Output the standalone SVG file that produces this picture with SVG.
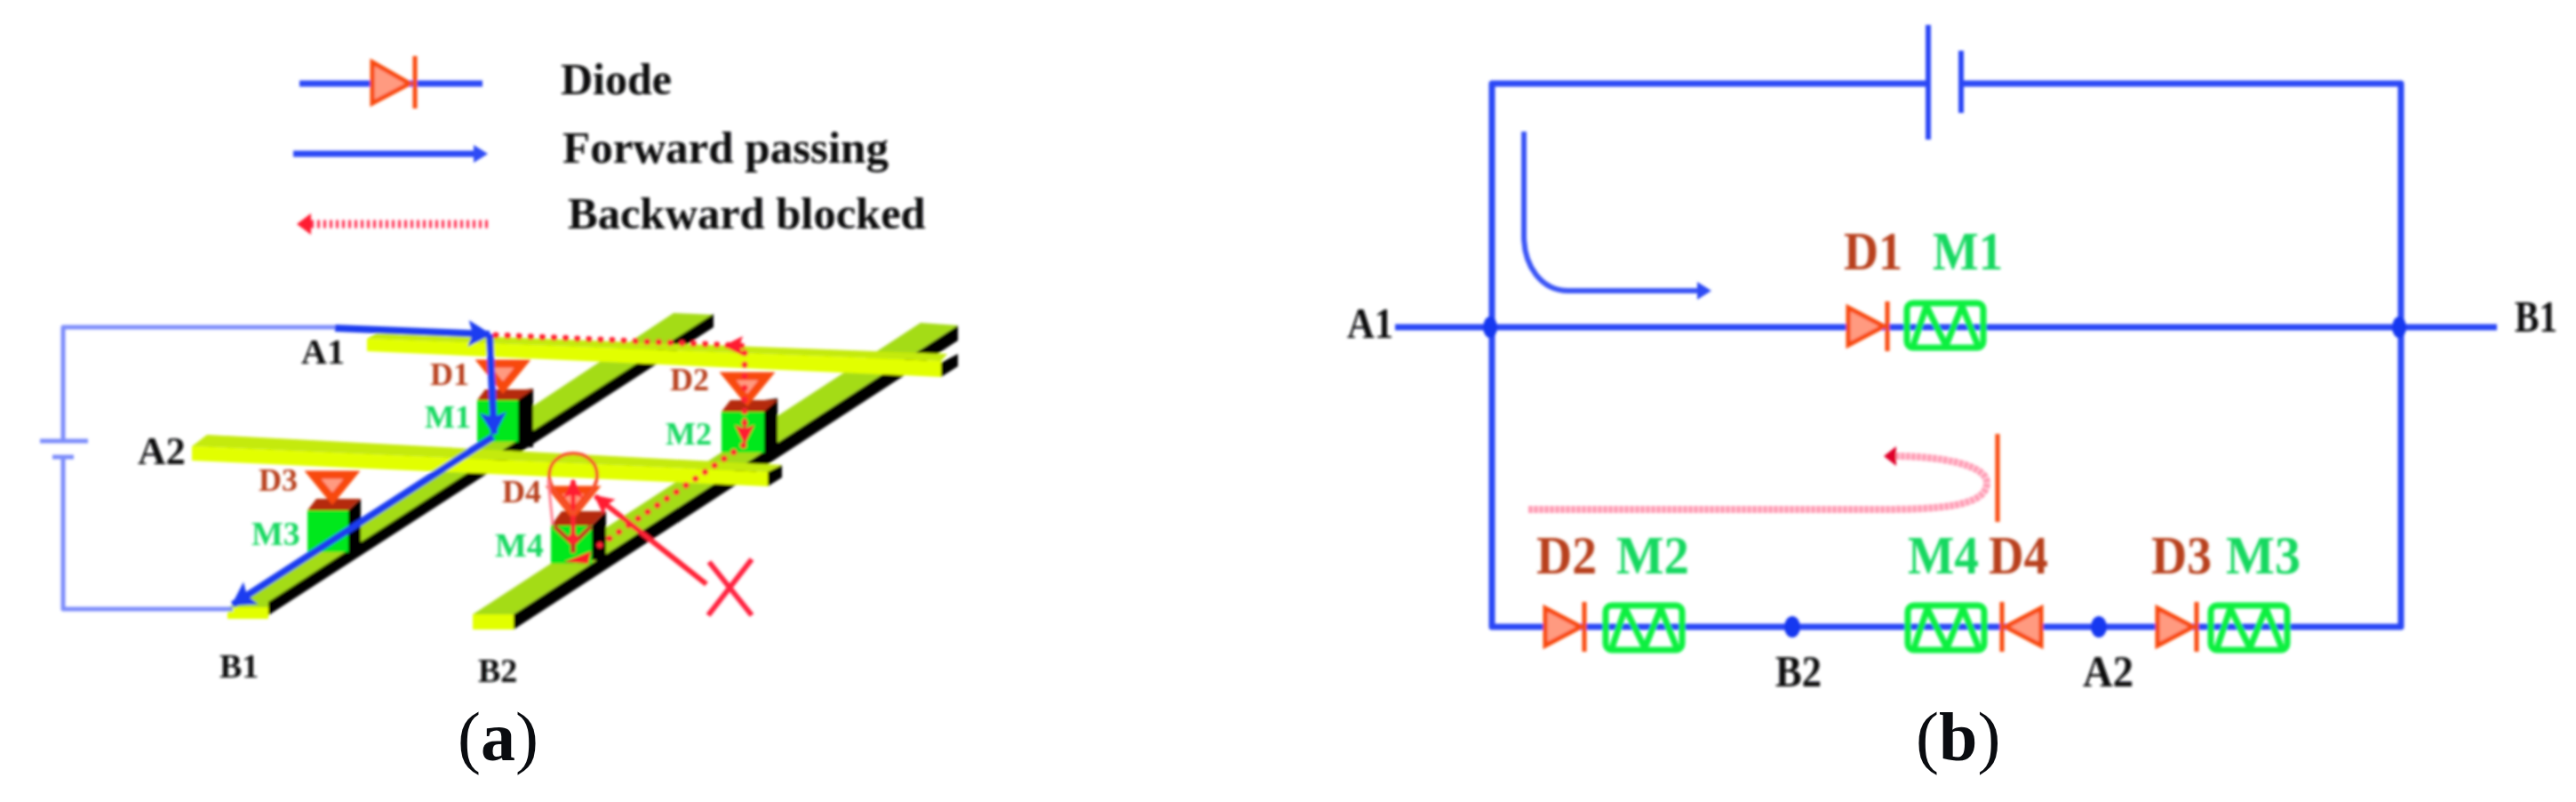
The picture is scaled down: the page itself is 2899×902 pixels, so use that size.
<svg xmlns="http://www.w3.org/2000/svg" width="2899" height="902" viewBox="0 0 2899 902">
<style>
text{font-family:"Liberation Serif","Times New Roman",serif;font-weight:bold}
.k{fill:#0a0c10}.dr{fill:#b8401e}.gr{fill:#12d860}
.wire{fill:none;stroke:#2a46f5;stroke-width:7;stroke-linejoin:round;stroke-linecap:butt}
.thin{fill:none;stroke:#7d8dfb;stroke-width:5;stroke-linejoin:round}
.flow{fill:none;stroke:#1c3cf0;stroke-width:8;stroke-linejoin:round}
.dot{fill:none;stroke:#ff2030;stroke-width:7;stroke-dasharray:0.1 13;stroke-linecap:round}
.tri{fill:#ff9a80;stroke:#f8480a;stroke-width:5;stroke-linejoin:miter}
.trid{fill:#ff9a80;stroke:#f8480a;stroke-width:9;stroke-linejoin:miter}
.bar{fill:none;stroke:#f8480a;stroke-width:5}
.mem{fill:none;stroke:#08f040;stroke-width:7;stroke-linejoin:round}
.top{fill:#a4dc14}.top2{fill:#c4ea08}.front{fill:#e2ff00}.side{fill:#000}
.cubef{fill:#00e81e}.cubet{fill:#b52a10}
.j{fill:#1638f0}
</style>
<defs>
<filter id="soft" x="-5%" y="-5%" width="110%" height="110%"><feGaussianBlur stdDeviation="1.4"/></filter>
<marker id="hb" markerUnits="userSpaceOnUse" markerWidth="30" markerHeight="34" refX="24" refY="15" orient="auto"><path d="M0 0L26 15L0 30L5 15Z" fill="#1c3cf0"/></marker>
<marker id="hr" markerUnits="userSpaceOnUse" markerWidth="26" markerHeight="26" refX="20" refY="11" orient="auto"><path d="M0 0L22 11L0 22L4 11Z" fill="#ff1a30"/></marker>
<marker id="hb2" markerUnits="userSpaceOnUse" markerWidth="20" markerHeight="24" refX="8" refY="10" orient="auto"><path d="M0 0L16 10L0 20Z" fill="#2f4bf5"/></marker>
<g id="memristor"><rect class="mem" x="0" y="0" width="86" height="50" rx="7"/><path class="mem" stroke-width="6" d="M7 48L22 3L44 48L62 3L80 48"/></g>
<g id="diodeR"><path class="tri" d="M3 3L43 24L3 45Z"/><path class="bar" stroke-width="6" d="M47 -4V52"/></g>
<g id="diodeDown"><path class="trid" d="M5 4H49L27 31Z"/></g>
</defs>

<g id="panel-a" filter="url(#soft)">
<g id="legend">
<g id="legend-diode"><path class="wire" d="M337 94H543"/><path class="tri" d="M419 70L461 94L419 116Z"/><path class="bar" d="M467 63V122"/><text class="k" x="631" y="106" font-size="50">Diode</text></g>
<g id="legend-forward"><path class="wire" d="M330 173H541" marker-end="url(#hb2)"/><text class="k" x="633" y="183" font-size="51">Forward passing</text></g>
<g id="legend-backward"><path d="M549 252H350" fill="none" stroke="#ff2a50" stroke-width="9" stroke-dasharray="3 4"/><path d="M334 252L350 240V264Z" fill="#ff1a30"/><text class="k" x="639" y="257" font-size="50.5">Backward blocked</text></g>
</g>

<g id="bar-B1"><path class="top" d="M256 684L302 684L803 354L758 352Z"/><path class="side" d="M302 677L803 353V368L302 692Z"/><rect class="front" x="256" y="683" width="46" height="13"/></g>
<g id="bar-B2"><path class="top" d="M532 691L578 691L1078 366L1036 363Z"/><path class="side" d="M578 691L1078 366V383L578 708Z"/><rect class="front" x="532" y="691" width="46" height="17"/></g>

<g id="cell-M1"><path class="side" d="M583 439L600 437V503H573L583 497Z"/><path class="cubet" d="M537 450L546 438H600L583 450Z"/><rect class="cubef" x="537" y="450" width="46" height="47"/><use href="#diodeDown" x="539" y="405"/></g>
<g id="cell-M2"><path class="side" d="M860 450L875 448V515H850L860 509Z"/><path class="cubet" d="M812 463L822 450H875L860 463Z"/><rect class="cubef" x="812" y="463" width="48" height="46"/><use href="#diodeDown" x="814" y="419"/></g>
<g id="cell-M3"><path class="side" d="M392 574L406 561V624H392Z"/><path class="cubet" d="M346 574L356 561H406L392 574Z"/><rect class="cubef" x="346" y="574" width="46" height="47"/><use href="#diodeDown" x="347" y="530"/></g>
<g id="cell-M4"><path class="side" d="M666 591L682 575V630H666Z"/><path class="cubet" d="M620 591L632 575H682L666 591Z"/><rect class="cubef" x="620" y="591" width="46" height="43"/><use href="#diodeDown" x="618" y="547"/></g>

<g id="bar-A1"><path class="top2" d="M425 374L1066 398L1059 406L413 381Z"/><path class="front" d="M413 381L1059 406V424L413 395Z"/><path class="side" d="M1059 408L1078 398V412L1059 424Z"/></g>
<g id="bar-A2"><path class="top2" d="M233 489L880 523L864 531L216 502Z"/><path class="front" d="M216 502L864 531V547L216 518Z"/><path class="side" d="M864 531L880 523V537L864 547Z"/></g>

<g id="connectors-a">
<path class="thin" d="M377 368H71V496M71 514V685H262"/>
<path class="thin" d="M45 496H99M59 514H83"/>
<path class="flow" d="M377 369L551 376" marker-end="url(#hb)"/>
<path class="flow" d="M551 376L556 488" marker-end="url(#hb)"/>
<path class="flow" d="M555 491L262 680" marker-end="url(#hb)"/>
<path class="dot" d="M558 377L838 389V500L668 618"/>
<path d="M838 389H816" fill="none" stroke="#ff2030" stroke-width="5" marker-end="url(#hr)"/>
<path d="M838 470V498" fill="none" stroke="#ff2030" stroke-width="3" marker-end="url(#hr)"/>
<path class="j" style="fill:#ff1a28" d="M635 632L665 620L662 634Z"/>
<path d="M645 620V540" fill="none" stroke="#ff2030" stroke-width="5" marker-end="url(#hr)"/>
<path d="M624 592L645 612L665 592M645 612V622" fill="none" stroke="#c83020" stroke-width="5"/>
<circle cx="645" cy="606" r="6" fill="#ff2030"/>
<path d="M645 578C660 560 672 548 672 535C672 520 660 510 645 510C630 510 618 520 618 535C618 548 630 560 645 578Z" fill="none" stroke="#f5502a" stroke-width="4"/>
<path d="M617 540L622 590" fill="none" stroke="#ff8090" stroke-width="3"/>
<path d="M795 657L670 558" fill="none" stroke="#ff2036" stroke-width="6" marker-end="url(#hr)"/>
<path id="cross" d="M798 632L846 692M846 629L797 692" fill="none" stroke="#ff2040" stroke-width="6"/>
</g>

<g id="labels-a">
<text class="k" x="339" y="409" font-size="40">A1</text>
<text class="k" x="155" y="522" font-size="44">A2</text>
<text class="k" x="247" y="762" font-size="38">B1</text>
<text class="k" x="538" y="767" font-size="38">B2</text>
<text class="dr" x="484" y="433" font-size="36">D1</text>
<text class="gr" x="478" y="481" font-size="36">M1</text>
<text class="dr" x="754" y="439" font-size="36">D2</text>
<text class="gr" x="749" y="500" font-size="36">M2</text>
<text class="dr" x="291" y="552" font-size="36">D3</text>
<text class="gr" x="283" y="613" font-size="38">M3</text>
<text class="dr" x="565" y="565" font-size="36">D4</text>
<text class="gr" x="557" y="626" font-size="38">M4</text>
</g>
</g>
<text id="caption-a" class="k" x="515" y="855" font-size="78" fill="#000"><tspan font-weight="normal">(</tspan>a<tspan font-weight="normal">)</tspan></text>

<g id="panel-b" filter="url(#soft)">
<g id="connectors-b">
<path class="wire" d="M2170 94H1679V705H2702V94H2207"/>
<path class="wire" d="M1570 368H2810"/>
<path d="M2170 28V157M2207 57V127" fill="none" stroke="#2a46f5" stroke-width="6"/>
<path d="M1715 148V265C1715 300 1735 327 1765 327H1918" fill="none" stroke="#3a55f5" stroke-width="6" marker-end="url(#hb2)"/>
<path d="M1720 573H2113C2180 573 2236 570 2236 543C2236 522 2180 513 2134 513" fill="none" stroke="#ff9db5" stroke-width="8" stroke-dasharray="5 1"/>
<path d="M2120 513L2134 502V524Z" fill="#e0002a"/>
<path class="bar" d="M2248 488V587"/>
</g>
<g id="junctions">
<ellipse class="j" cx="1677" cy="368" rx="8" ry="12"/>
<ellipse class="j" cx="2700" cy="368" rx="8" ry="12"/>
<ellipse class="j" cx="2017" cy="705" rx="9" ry="12"/>
<ellipse class="j" cx="2362" cy="705" rx="9" ry="12"/>
</g>
<g id="node-D1"><use href="#diodeR" x="2077" y="343"/><text class="dr" x="2075" y="303" font-size="62" textLength="66" lengthAdjust="spacingAndGlyphs">D1</text></g>
<g id="node-M1"><use href="#memristor" x="2146" y="341"/><text class="gr" x="2175" y="303" font-size="62" textLength="79" lengthAdjust="spacingAndGlyphs">M1</text></g>
<g id="node-D2"><use href="#diodeR" x="1736" y="681"/><text class="dr" x="1729" y="645" font-size="62" textLength="68" lengthAdjust="spacingAndGlyphs">D2</text></g>
<g id="node-M2"><use href="#memristor" x="1807" y="681"/><text class="gr" x="1819" y="645" font-size="62" textLength="82" lengthAdjust="spacingAndGlyphs">M2</text></g>
<g id="node-M4"><use href="#memristor" x="2147" y="681"/><text class="gr" x="2147" y="645" font-size="62" textLength="80" lengthAdjust="spacingAndGlyphs">M4</text></g>
<g id="node-D4"><use href="#diodeR" transform="translate(2300 681) scale(-1 1)"/><text class="dr" x="2238" y="645" font-size="62" textLength="67" lengthAdjust="spacingAndGlyphs">D4</text></g>
<g id="node-D3"><use href="#diodeR" x="2425" y="681"/><text class="dr" x="2421" y="645" font-size="62" textLength="68" lengthAdjust="spacingAndGlyphs">D3</text></g>
<g id="node-M3"><use href="#memristor" x="2488" y="681"/><text class="gr" x="2505" y="645" font-size="62" textLength="84" lengthAdjust="spacingAndGlyphs">M3</text></g>
<g id="labels-b">
<text class="k" x="1516" y="380" font-size="48" textLength="52" lengthAdjust="spacingAndGlyphs">A1</text>
<text class="k" x="2830" y="373" font-size="50" textLength="48" lengthAdjust="spacingAndGlyphs">B1</text>
<text class="k" x="1998" y="772" font-size="50" textLength="52" lengthAdjust="spacingAndGlyphs">B2</text>
<text class="k" x="2344" y="772" font-size="50" textLength="57" lengthAdjust="spacingAndGlyphs">A2</text>
</g>
</g>
<text id="caption-b" class="k" x="2156" y="855" font-size="78" fill="#000"><tspan font-weight="normal">(</tspan>b<tspan font-weight="normal">)</tspan></text>
</svg>
